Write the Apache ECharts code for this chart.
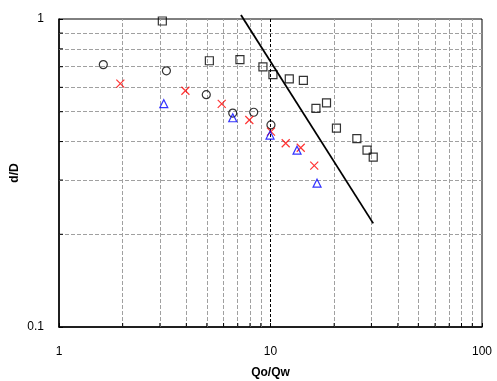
<!DOCTYPE html>
<html><head><meta charset="utf-8">
<script src="https://cdn.jsdelivr.net/npm/echarts@6/dist/echarts.min.js"></script>
<style>html,body{margin:0;padding:0;background:#fff}#c{width:497px;height:381px}</style>
</head><body><div id="c"></div>
<script>
var squareX = [3.08, 5.14, 7.17, 9.21, 10.27, 12.27, 14.3, 16.4, 18.4, 20.5, 25.6, 28.6, 30.6];
var squareY = [0.985, 0.732, 0.738, 0.699, 0.660, 0.639, 0.632, 0.513, 0.534, 0.442, 0.409, 0.375, 0.356];
var circleX = [1.62, 3.22, 4.97, 6.63, 8.33, 10.05];
var circleY = [0.711, 0.679, 0.568, 0.495, 0.498, 0.453];
var crossX = [1.95, 3.96, 5.88, 7.94, 10.05, 11.8, 13.9, 16.1];
var crossY = [0.617, 0.585, 0.530, 0.470, 0.431, 0.395, 0.382, 0.334];
var triX = [3.13, 6.63, 9.95, 13.35, 16.6];
var triY = [0.531, 0.478, 0.420, 0.375, 0.293];
var lineX = [7.25, 30.6];
var lineY = [1.03, 0.217];
var xGrid = [2, 3, 4, 5, 6, 7, 8, 9, 20, 30, 40, 50, 60, 70, 80, 90];
var xGridDark = [10];
var yGrid = [0.2, 0.3, 0.4, 0.5, 0.6, 0.7, 0.8, 0.9];
var xTicks = [2, 3, 4, 5, 6, 7, 8, 9, 10, 20, 30, 40, 50, 60, 70, 80, 90];
var yTicks = [0.2, 0.3, 0.4, 0.5, 0.6, 0.7, 0.8, 0.9];

function pairs(xs, ys) { return xs.map(function (x, i) { return [x, ys[i]]; }); }

var gridLines = [];
xGrid.forEach(function (v) { gridLines.push({ xAxis: v, lineStyle: { color: '#a0a0a0', type: [4, 2], width: 1 } }); });
xGridDark.forEach(function (v) { gridLines.push({ xAxis: v, lineStyle: { color: '#000', type: [3, 2], width: 1 } }); });
yGrid.forEach(function (v) { gridLines.push({ yAxis: v, lineStyle: { color: '#a0a0a0', type: [4, 2], width: 1 } }); });

var tickData = xTicks.map(function (v) { return [v, 0]; }).concat(yTicks.map(function (v) { return [v, 1]; }));

var font = 'Liberation Sans, Arial, sans-serif';
var chart = echarts.init(document.getElementById('c'), null, { renderer: 'canvas' });
chart.setOption({
  animation: false,
  backgroundColor: '#fff',
  grid: { left: 59, right: 15, top: 19, bottom: 54, containLabel: false, outerBoundsMode: 'none', show: true, borderColor: '#000', borderWidth: 1, backgroundColor: 'transparent' },
  xAxis: {
    type: 'log', logBase: 10, min: 1, max: 100,
    name: 'Qo/Qw', nameLocation: 'middle', nameGap: 40, nameMoveOverlap: false,
    nameTextStyle: { fontFamily: font, fontSize: 12, fontWeight: 'bold', color: '#000' },
    axisLine: { lineStyle: { color: '#000', width: 1.5 } },
    axisTick: { inside: true, length: 4, lineStyle: { color: '#000' } },
    axisLabel: { margin: 19, fontFamily: font, fontSize: 12, color: '#000' },
    splitLine: { show: false }
  },
  yAxis: {
    type: 'log', logBase: 10, min: 0.1, max: 1,
    name: 'd/D', nameLocation: 'middle', nameGap: 38, nameRotate: 90, nameMoveOverlap: false,
    nameTextStyle: { fontFamily: font, fontSize: 12, fontWeight: 'bold', color: '#000' },
    axisLine: { lineStyle: { color: '#000', width: 1.5 } },
    axisTick: { inside: true, length: 4, lineStyle: { color: '#000' } },
    axisLabel: { margin: 15, fontFamily: font, fontSize: 12, color: '#000' },
    splitLine: { show: false }
  },
  series: [
    {
      type: 'line', data: pairs(lineX, lineY), showSymbol: false, clip: false, z: 3,
      lineStyle: { color: '#000', width: 1.8 },
      markLine: { silent: true, symbol: 'none', label: { show: false }, data: gridLines, z: 1 }
    },
    {
      type: 'custom', clip: false, z: 4, silent: true, data: tickData,
      renderItem: function (params, api) {
        var v = api.value(0), kind = api.value(1);
        var p;
        if (kind === 0) {
          p = api.coord([v, 0.1]);
          return { type: 'line', shape: { x1: p[0], y1: p[1], x2: p[0], y2: p[1] - 4 }, style: { stroke: '#000', lineWidth: 1 } };
        }
        p = api.coord([1, v]);
        return { type: 'line', shape: { x1: p[0], y1: p[1], x2: p[0] + 4, y2: p[1] }, style: { stroke: '#000', lineWidth: 1 } };
      }
    },
    {
      type: 'scatter', data: pairs(squareX, squareY), symbol: 'rect', symbolSize: 8, z: 5,
      itemStyle: { color: 'rgba(0,0,0,0)', borderColor: '#000', borderWidth: 1.2 }
    },
    {
      type: 'scatter', data: pairs(circleX, circleY), symbol: 'circle', symbolSize: 8, z: 5,
      itemStyle: { color: 'rgba(0,0,0,0)', borderColor: '#000', borderWidth: 1.2 }
    },
    {
      type: 'scatter', data: pairs(crossX, crossY), symbol: 'path://M0,0L10,10M10,0L0,10', symbolSize: 8, z: 5,
      itemStyle: { color: 'rgba(0,0,0,0)', borderColor: '#ff0000', borderWidth: 1.2 }
    },
    {
      type: 'scatter', data: pairs(triX, triY), symbol: 'triangle', symbolSize: 8, z: 5,
      itemStyle: { color: 'rgba(0,0,0,0)', borderColor: '#0000ff', borderWidth: 1.2 }
    }
  ]
});
</script></body></html>
